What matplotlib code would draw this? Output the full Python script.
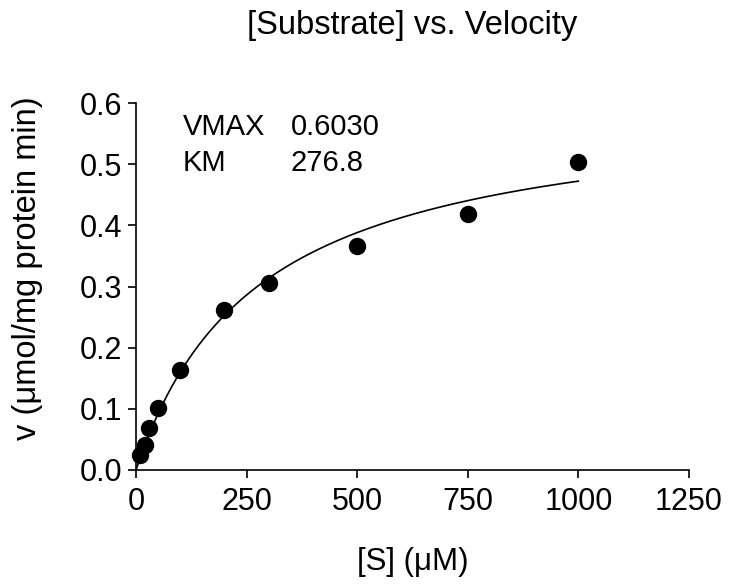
import numpy as np
import matplotlib
matplotlib.use('Agg')
from matplotlib import pyplot as plt

# substrate concentration (uM) and measured velocity
substrate = [10, 20, 30, 50, 100, 200, 300, 500, 750, 1000]
velocity = [0.024, 0.041, 0.069, 0.101, 0.164, 0.262, 0.306, 0.367, 0.419, 0.504]

# Michaelis-Menten fit parameters shown on the chart
VMAX = 0.6030
KM = 276.8

plt.rcParams['font.family'] = ['Liberation Sans', 'DejaVu Sans']

fig = plt.figure(figsize=(7.29, 5.88), dpi=100)
ax = fig.add_axes([0.1866, 0.2007, 0.7584, 0.6241])

s_fit = np.linspace(0, max(substrate), 400)
v_fit = VMAX * s_fit / (KM + s_fit)
ax.plot(s_fit, v_fit, color='black', lw=1.2)
ax.plot(substrate, velocity, 'o', color='black', markersize=11.5, clip_on=False, zorder=3)

ax.set_xlim(0, 1250)
ax.set_ylim(0, 0.6)
ax.set_xticks([0, 250, 500, 750, 1000, 1250])
ax.set_yticks([0.0, 0.1, 0.2, 0.3, 0.4, 0.5, 0.6])
ax.set_yticklabels(['0.0', '0.1', '0.2', '0.3', '0.4', '0.5', '0.6'])
ax.spines['top'].set_visible(False)
ax.spines['right'].set_visible(False)
for sp in ['left', 'bottom']:
    ax.spines[sp].set_linewidth(1.2)
ax.tick_params(direction='out', length=6, width=1.2, labelsize=22)
ax.tick_params(axis='x', pad=6)
ax.tick_params(axis='y', pad=4)

ax.set_xlabel('[S] (μM)', fontsize=22.5, labelpad=22)
ax.set_ylabel('v (μmol/mg protein min)', fontsize=23.5, va='center')
ax.yaxis.set_label_coords(-0.197, 0.55)
ax.set_title('[Substrate] vs. Velocity', fontsize=23.5, pad=50)

ax.text(106, 0.561, 'VMAX', fontsize=21, va='center', ha='left')
ax.text(350, 0.561, f'{VMAX:.4f}', fontsize=21, va='center', ha='left')
ax.text(106, 0.502, 'KM', fontsize=21, va='center', ha='left')
ax.text(350, 0.502, f'{KM:.1f}', fontsize=21, va='center', ha='left')

fig.savefig('out.png', dpi=100)
plt.close(fig)
